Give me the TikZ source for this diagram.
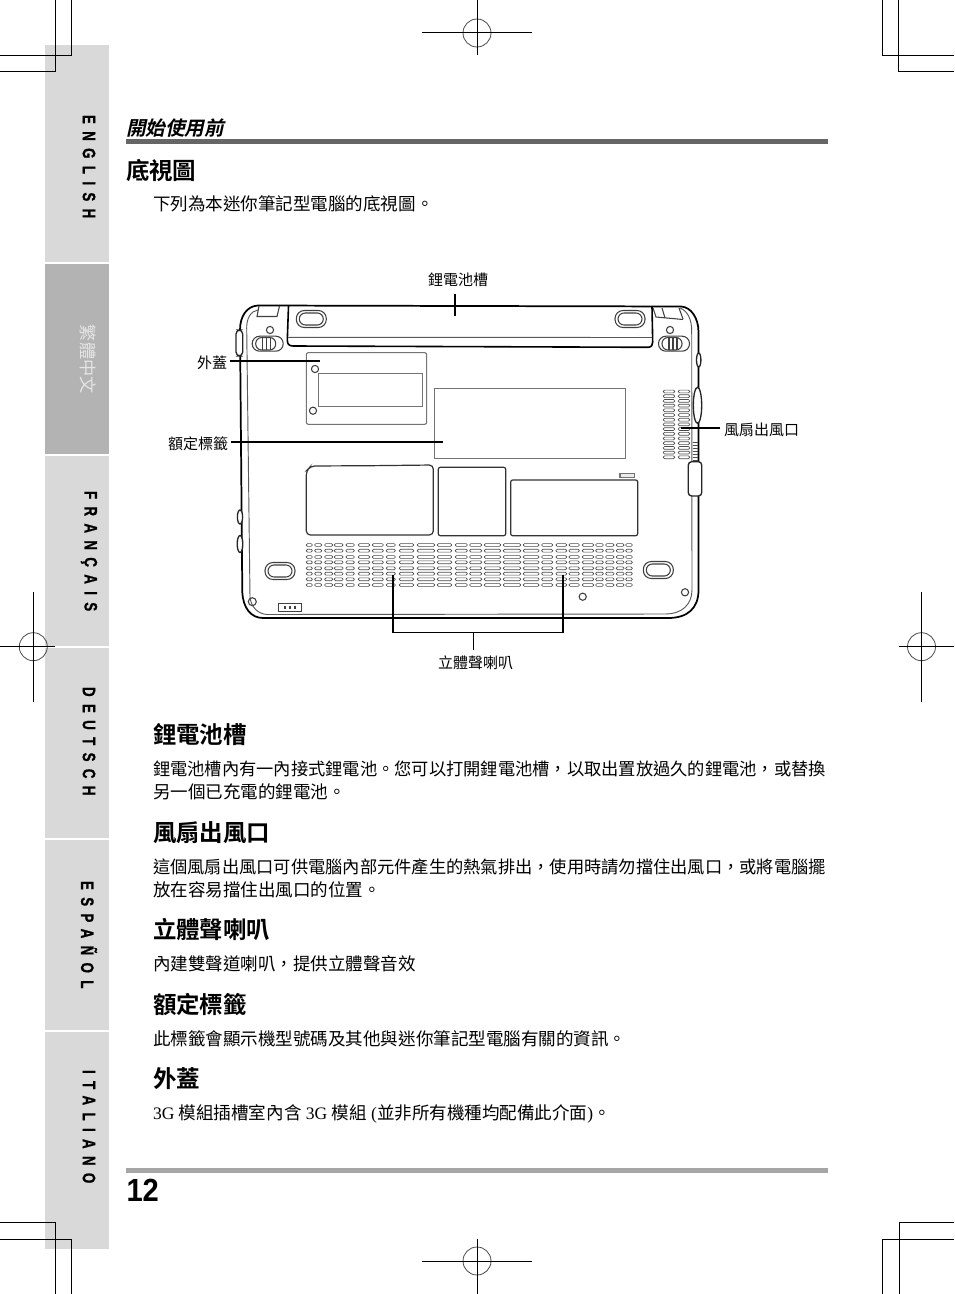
\documentclass[tikz,border=0pt]{standalone}
\usepackage{fontspec}
\usepackage{graphicx}
\setmainfont{Noto Sans CJK TC}
\newfontfamily\cjkb{Noto Sans CJK TC Bold}
\newfontfamily\cjkbi[FakeSlant=0.22]{Noto Sans CJK TC Bold}
\newfontfamily\lat{Liberation Serif}
\newfontfamily\tabf[LetterSpace=55,FakeBold=1.2]{Liberation Sans Bold}
\newfontfamily\numf{Liberation Sans Bold}
\newcommand{\tabtext}[1]{\scalebox{1}[1.35]{\fontsize{10pt}{12pt}\tabf #1}}
\tikzset{
  txt/.style={inner sep=0pt,outer sep=0pt,anchor=base west},
  body/.style={txt,font=\fontsize{12.94pt}{15pt}\selectfont},
  bodyw/.style={txt,font=\fontsize{13.15pt}{15pt}\selectfont},
  head/.style={txt,font=\fontsize{17.6pt}{20pt}\cjkb},
  lbl/.style={txt,font=\fontsize{11.25pt}{13pt}\selectfont},
  crop/.style={line width=0.75pt,black},
  reg/.style={line width=0.6pt,black!70},
  sidetab/.style={inner sep=0pt,outer sep=0pt,anchor=west,rotate=-90},
  outer/.style={line width=1.3pt,black,line join=round},
  inner/.style={line width=0.7pt,black!65},
  part/.style={line width=0.8pt,black!75},
  panel/.style={line width=0.8pt,black!55},
  vent/.style={line width=0.5pt,black!70,rounded corners=0.9pt},
  leader/.style={line width=1.3pt,black},
  thinleader/.style={line width=1pt,black}
}
\definecolor{tabgray}{HTML}{D9D9D9}
\definecolor{tabdark}{HTML}{B3B3B3}
\definecolor{ruledark}{HTML}{666666}
\definecolor{rulelight}{HTML}{A6A6A6}
\begin{document}
\begin{tikzpicture}[x=0.75pt,y=-0.75pt]
\useasboundingbox (0,0) rectangle (954,1294);
\fill[white] (0,0) rectangle (954,1294);
% side tabs
\fill[tabgray] (45,45) rectangle (109,262);
\fill[tabdark] (45,264) rectangle (109,454);
\fill[tabgray] (45,456) rectangle (109,646);
\fill[tabgray] (45,648) rectangle (109,838);
\fill[tabgray] (45,840) rectangle (109,1030);
\fill[tabgray] (45,1032) rectangle (109,1249);
\node[sidetab] (t1) at (89,115) {\tabtext{ENGLISH}};
\node[sidetab,text=white!90!black,font=\fontsize{12.9pt}{15pt}\selectfont] (t2) at (88,325) {繁體中文};
\node[sidetab] (t3) at (89,491) {\tabtext{FRANÇAIS}};
\node[sidetab] (t4) at (89,687) {\tabtext{DEUTSCH}};
\node[sidetab] (t5) at (89,881) {\tabtext{ESPAÑOL}};
\node[sidetab] (t6) at (89,1070) {\tabtext{ITALIANO}};
% crop marks
\draw[crop] (71.3,0) -- (71.3,55.3) -- (0,55.3);
\draw[crop] (55.3,0) -- (55.3,71.3) -- (0,71.3);
\draw[crop] (882.7,0) -- (882.7,55.3) -- (954,55.3);
\draw[crop] (898.7,0) -- (898.7,71.3) -- (954,71.3);
\draw[crop] (0,1222.3) -- (55.3,1222.3) -- (55.3,1294);
\draw[crop] (0,1239.3) -- (71.3,1239.3) -- (71.3,1294);
\draw[crop] (954,1222.3) -- (899.3,1222.3) -- (899.3,1294);
\draw[crop] (954,1239.3) -- (882.7,1239.3) -- (882.7,1294);
% registration marks
\foreach \cx/\cy/\hl/\hr/\vt/\vb in {477/33/422/532/0/55,477/1261/422/532/1239/1294,33.3/646.7/0/55/592/702,921.5/646.7/899/954/592/702}{
  \draw[reg] (\cx,\cy) circle[radius=14];
  \draw[crop] (\hl,\cy) -- (\hr,\cy);
  \draw[crop] (\cx,\vt) -- (\cx,\vb);
}
% rules
\fill[ruledark] (126,139) rectangle (828,144);
\fill[rulelight] (126,1168) rectangle (828,1173);
% headers
\node[txt,font=\fontsize{14.7pt}{17pt}\cjkbi] (hdr) at (126,136) {開始使用前};
\node[head] (title) at (126,179.5) {底視圖};
\node[bodyw] (sub) at (153,210.5) {下列為本迷你筆記型電腦的底視圖。};
% laptop outline
\draw[outer] (258,305.5) -- (681,306.5) .. controls (691,307) and (698.5,318) .. (698.5,332)
  -- (698.5,590) .. controls (698.5,608) and (688,618) .. (668,618) -- (263,618)
  .. controls (251,618) and (243,608) .. (242.3,592) -- (240,330)
  .. controls (240,316) and (247,306) .. (258,305.5);
\draw[inner] (258,310) .. controls (251,311) and (246.5,318) .. (246.7,328) -- (250,597)
  .. controls (251,607) and (258,614.5) .. (268,614.5) -- (666,614)
  .. controls (681,614) and (692,605) .. (692,590) -- (691.7,330)
  .. controls (691.5,320) and (688,311) .. (680,308);
% hinges
\draw[part] (259,306) -- (257,316.5) -- (277,316.5) -- (279.5,306);
\draw[part] (653,308) -- (656,317) -- (683,319.5);
\draw[part] (662,308) -- (665,318);
\draw[part] (679,308) -- (683,319);
% battery
\draw[line width=1.2pt,black] (288.5,306) -- (287.3,340) .. controls (287.3,344) and (289,346) .. (293,346)
  -- (648,347.3) .. controls (651.5,347.3) and (652.7,345) .. (652.7,342) -- (652,307);
\draw[inner] (288,337.3) -- (652,337.5);
% ovals
\foreach \ox/\oy in {311.3/319,630/319,280/571,658.3/570}{
  \draw[part,rounded corners=6pt] (\ox-15,\oy-8.5) rectangle (\ox+15,\oy+8.5);
  \draw[part,rounded corners=4.5pt] (\ox-12,\oy-6) rectangle (\ox+12,\oy+6);
}
% sliders
\foreach \ox/\cx in {267.7/270,674/670}{
  \draw[part,rounded corners=5.5pt] (\ox-15.5,336.2) rectangle (\ox+15.5,351.2);
  \draw[part,rounded corners=4.5pt] (\ox-12,337.5) rectangle (\ox+8,350);
  \draw[part] (\ox-5,338) -- (\ox-5,350) (\ox-1,338) -- (\ox-1,350) (\ox+3,338) -- (\ox+3,350);
  \draw[part] (\cx,330) circle[radius=3.6];
}
% panels
\draw[panel,rounded corners=1.5pt] (306.3,352.7) rectangle (426.7,424.3);
\draw[panel] (318.7,373.3) rectangle (422.7,406.7);
\draw[part] (315,369) circle[radius=3.6];
\draw[part] (313,410.7) circle[radius=3.6];
\draw[panel] (434.3,388.3) rectangle (625.7,458.3);
% bays
\draw[line width=0.9pt,black!80,rounded corners=3pt] (370,465.7) -- (433.3,465) -- (433.3,535) -- (306.3,535) -- (306.3,471) -- (311,466) -- cycle;
\draw[line width=0.9pt,black!80,rounded corners=1.5pt] (438.3,467.3) rectangle (505.7,535.7);
\draw[line width=0.9pt,black!80,rounded corners=1.5pt] (510.7,480) rectangle (637.7,535.7);
\draw[panel,fill=black!8] (620,473.3) rectangle (634.3,477.3);
% circles
\draw[part] (582.7,596.7) circle[radius=3.6];
\draw[part] (685,592.3) circle[radius=3.6];
\draw[part] (252.3,601.7) circle[radius=4];
% badge
\draw[part] (278.3,603.3) rectangle (301.7,611.3);
\foreach \bx in {285,290,295}{\draw[part] (\bx,605.5) -- (\bx,609);}
% side ports
\draw[line width=1pt,black!85,rounded corners=3pt,fill=white] (236,330) rectangle (242.7,356);
\draw[line width=1pt,black!85,fill=white] (240,517) ellipse[x radius=2.6,y radius=7];
\draw[line width=1pt,black!85,fill=white] (240,544) ellipse[x radius=2.8,y radius=8.5];
\draw[line width=1pt,black!85,fill=white] (698.7,360) ellipse[x radius=2.2,y radius=7];
\draw[line width=1pt,black!85,fill=white] (697.5,405.3) ellipse[x radius=4.2,y radius=18];
\foreach \sy in {442,445,448,451,454,457,460}{\draw[line width=0.5pt,black!70] (692.7,\sy) -- (698,\sy);}
\draw[line width=1pt,black!85,fill=white,rounded corners=2.5pt] (688.3,461.7) rectangle (701.7,496);
% bottom vents
\foreach \vy in {545,550.7,557,562.3,568.3,573.7,579.3,585}{
  \foreach \xa/\xb in {306.3/312.3,314.7/321.7,324.7/332.7,334.3/343,346/354.3,358.3/369.7,372.3/383.3,386.3/395.3,399.3/413.7,417.3/434.7,437.3/451.7,455.3/467.3,469.7/481.7,484.3/500.7,503.3/520.7,523.3/539,541.7/552.7,556/566.7,569/579.3,582.3/593.7,595.7/603.3,605.7/614,616.3/624,625.7/632.3}{
    \draw[vent] (\xa,\vy-1.4) rectangle (\xb,\vy+1.4);
  }
}
% right vents
\foreach \vn in {0,...,14}{
  \pgfmathsetmacro{\vy}{391.5+\vn*4.7}
  \draw[vent] (663.3,\vy-1.4) rectangle (674.7,\vy+1.4);
  \draw[vent] (678.3,\vy-1.4) rectangle (689.7,\vy+1.4);
}
% leader lines and labels
\node[lbl] (lbat) at (428,286) {鋰電池槽};
\node[lbl] (lcov) at (197,368) {外蓋};
\node[lbl] (lrat) at (168,449) {額定標籤};
\node[lbl] (lfan) at (724,435.5) {風扇出風口};
\node[lbl] (lspk) at (438,668) {立體聲喇叭};
\coordinate (batA) at (455,294); \coordinate (batB) at (455,316);
\coordinate (covA) at (230,360.7); \coordinate (covB) at (320,360.7);
\coordinate (ratA) at (231,441.7); \coordinate (ratB) at (443,441.7);
\coordinate (fanA) at (720,427.7); \coordinate (fanB) at (681,427.7);
\coordinate (spA) at (393.3,575); \coordinate (spB) at (393.3,632.5);
\coordinate (spC) at (563,632.5); \coordinate (spD) at (563,575);
\coordinate (spM) at (473.5,632.5); \coordinate (spT) at (473.5,650);
\draw[leader] (batA) -- (batB);
\draw[leader] (covA) -- (covB);
\draw[leader] (ratA) -- (ratB);
\draw[leader] (fanA) -- (fanB);
\draw[leader] (spA) -- (spB) -- (spC) -- (spD);
\draw[thinleader] (spM) -- (spT);
% text blocks
\node[head] (h1) at (153,743) {鋰電池槽};
\node[body] (b1a) at (153,775) {鋰電池槽內有一內接式鋰電池。您可以打開鋰電池槽，以取出置放過久的鋰電池，或替換};
\node[bodyw] (b1b) at (153,798) {另一個已充電的鋰電池。};
\node[head] (h2) at (153,841) {風扇出風口};
\node[body] (b2a) at (153,873) {這個風扇出風口可供電腦內部元件產生的熱氣排出，使用時請勿擋住出風口，或將電腦擺};
\node[bodyw] (b2b) at (153,896) {放在容易擋住出風口的位置。};
\node[head] (h3) at (153,938) {立體聲喇叭};
\node[bodyw] (b3) at (153,970) {內建雙聲道喇叭，提供立體聲音效};
\node[head] (h4) at (153,1013.5) {額定標籤};
\node[bodyw] (b4) at (153,1045) {此標籤會顯示機型號碼及其他與迷你筆記型電腦有關的資訊。};
\node[head] (h5) at (153,1087.5) {外蓋};
\node[bodyw] (b5) at (153,1119) {{\lat 3G }模組插槽室內含{\lat\ 3G }模組{\lat\ (}並非所有機種均配備此介面{\lat )}。};
\node[txt,font=\fontsize{24pt}{28pt}\numf] (pg) at (126.5,1201) {\scalebox{0.91}[1]{12}};
\end{tikzpicture}
\end{document}
